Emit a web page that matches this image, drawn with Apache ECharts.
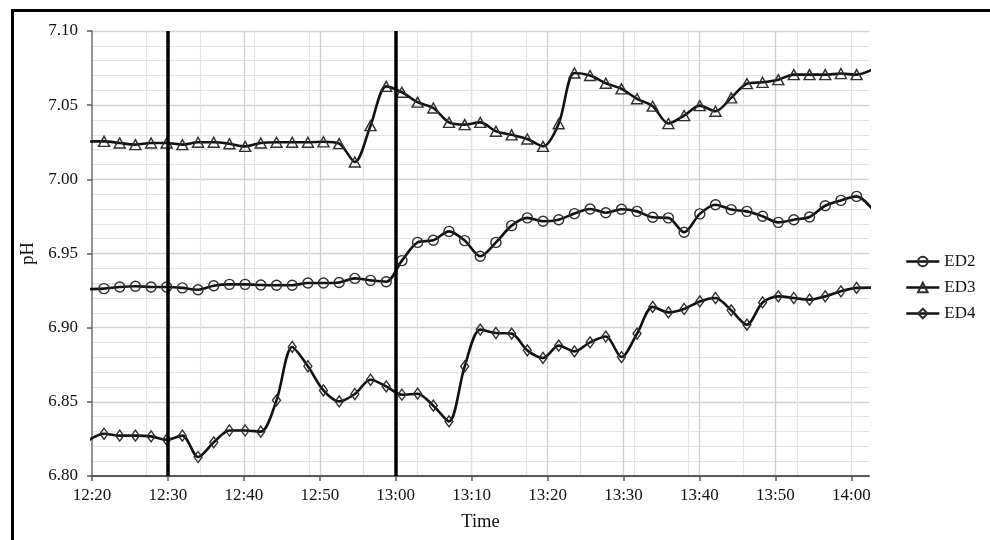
<!DOCTYPE html>
<html><head><meta charset="utf-8">
<script src="https://cdn.jsdelivr.net/npm/echarts@6/dist/echarts.min.js"></script>
<style>html,body{margin:0;padding:0;background:#fff}#c{width:990px;height:540px}</style>
</head><body><div id="c"></div>
<script>
// sample times (first and last points lie just outside the plotted window)
const times = ["12:19:31","12:21:35","12:23:39","12:25:43","12:27:47","12:29:50","12:31:54","12:33:58","12:36:02","12:38:06",
"12:40:10","12:42:14","12:44:18","12:46:22","12:48:26","12:50:29","12:52:33","12:54:37","12:56:41","12:58:45",
"13:00:49","13:02:53","13:04:57","13:07:01","13:09:05","13:11:08","13:13:12","13:15:16","13:17:20","13:19:24",
"13:21:28","13:23:32","13:25:36","13:27:40","13:29:44","13:31:47","13:33:51","13:35:55","13:37:59","13:40:03",
"13:42:07","13:44:11","13:46:15","13:48:19","13:50:23","13:52:26","13:54:30","13:56:34","13:58:38","14:00:42","14:02:46"];
const ed2 = [6.926,6.9263,6.9274,6.9279,6.9274,6.9274,6.9268,6.9256,6.9283,6.9292,
6.9292,6.9288,6.9286,6.9286,6.9301,6.9301,6.9305,6.9332,6.9319,6.931,
6.9452,6.9575,6.9589,6.9649,6.9587,6.9481,6.9575,6.9688,6.974,6.9717,
6.9728,6.9769,6.980,6.9775,6.9798,6.9784,6.9744,6.974,6.9643,6.9767,
6.9829,6.9796,6.9784,6.9751,6.971,6.9728,6.9746,6.9822,6.9858,6.9885,6.980];
const ed3 = [7.0255,7.0256,7.0245,7.0234,7.0245,7.0245,7.0234,7.025,7.025,7.024,
7.0222,7.0245,7.025,7.025,7.025,7.0253,7.0241,7.0117,7.0362,7.0627,
7.0587,7.052,7.0481,7.0384,7.0369,7.0384,7.0324,7.030,7.0272,7.0222,
7.0375,7.0717,7.070,7.0648,7.061,7.0543,7.0493,7.0376,7.043,7.0497,
7.0459,7.0549,7.0645,7.0654,7.0672,7.0706,7.0706,7.0706,7.0713,7.0706,7.074];
const ed4 = [6.824,6.8285,6.8272,6.8272,6.8267,6.8245,6.8272,6.8128,6.8227,6.8307,
6.8307,6.8299,6.851,6.887,6.874,6.8577,6.8503,6.8553,6.8649,6.8604,
6.8548,6.8555,6.8474,6.8368,6.8739,6.8987,6.8964,6.896,6.8847,6.8796,
6.8879,6.884,6.8901,6.894,6.8802,6.896,6.914,6.9103,6.9126,6.9177,
6.92,6.9117,6.902,6.917,6.9211,6.92,6.9189,6.9211,6.9245,6.9268,6.927];
const xTickLabels = ["12:20","12:30","12:40","12:50","13:00","13:10","13:20","13:30","13:40","13:50","14:00"];
const eventTimes = ["12:30","13:00"];
const xStart = "12:20", xEnd = "14:02:20";
const yMin = 6.80, yMax = 7.10, yStep = 0.05;

const base = (function(){const p=xStart.split(':').map(Number);return p[0]*60+p[1];})();
function toMin(s){const p=s.split(':').map(Number);return p[0]*60+p[1]+(p[2]||0)/60-base;}
function fmt(v){const m=Math.round(v)+base;return Math.floor(m/60)+':'+String(m%60).padStart(2,'0');}
const xMax = toMin(xEnd);
const tickVals = xTickLabels.map(toMin);
const FONT = 'Liberation Serif';

const chart = echarts.init(document.getElementById('c'), null, {renderer:'canvas'});
function mk(name, vals, symbol, size){
  return {
    name, type:'line', data: times.map((t,i)=>[toMin(t), vals[i]]),
    smooth: 0.3, symbol, symbolSize: size, showAllSymbol: true, clip: true,
    lineStyle:{color:'#111', width:2.6},
    itemStyle:{color:'rgba(255,255,255,0)', borderColor:'#2e2e2e', borderWidth:1.4},
    emphasis:{disabled:true}, z: 3
  };
}
const s2 = mk('ED2', ed2, 'circle', 10);
const s3 = mk('ED3', ed3, 'triangle', [11,10]);
const s4 = mk('ED4', ed4, 'diamond', [8,11]);
s3.markLine = {
  silent:true, symbol:['none','none'], label:{show:false},
  lineStyle:{color:'#000', width:3.5, type:'solid'},
  data: eventTimes.map(t=>({xAxis: toMin(t)})), z: 5
};
chart.setOption({
  animation:false,
  backgroundColor:'#fff',
  graphic:[{type:'rect', left:10, top:8, shape:{width:1100, height:700}, style:{fill:'none', stroke:'#000', lineWidth:3}, silent:true}],
  grid:{left:92, top:31, width:777, height:445, containLabel:false},
  legend:{
    orient:'vertical', left:905, top:253, itemWidth:33, itemHeight:12, itemGap:9, padding:0,
    textStyle:{fontFamily:FONT, fontSize:17, color:'#111'},
    lineStyle:{width:2.6, color:'#111'},
    data:['ED2','ED3','ED4']
  },
  xAxis:[{
    type:'value', min:0, max:xMax, interval:10,
    name:'Time', nameLocation:'middle', nameGap:37,
    nameTextStyle:{fontFamily:FONT, fontSize:18.5, color:'#111'},
    axisLine:{show:true, lineStyle:{color:'#5a5a5a', width:2}},
    axisTick:{show:true, length:5, customValues:tickVals, lineStyle:{color:'#5a5a5a', width:1.5}},
    axisLabel:{customValues:tickVals, formatter:fmt, margin:11, fontFamily:FONT, fontSize:17, color:'#111'},
    splitLine:{show:true, showMinLine:false, showMaxLine:false, lineStyle:{color:'#cdcdcd', width:1.3}}
  },{
    type:'value', min:0, max:xMax*14/100, interval:1, position:'top',
    axisLine:{show:false}, axisTick:{show:false}, axisLabel:{show:false},
    splitLine:{show:true, showMinLine:false, showMaxLine:false, lineStyle:{color:'#e2e2e2', width:1.2}}
  }],
  yAxis:{
    type:'value', min:yMin, max:yMax, interval:yStep,
    name:'pH', nameLocation:'middle', nameGap:43, nameRotate:90,
    nameTextStyle:{fontFamily:FONT, fontSize:18.5, color:'#111'},
    axisLine:{show:true, lineStyle:{color:'#6e6e6e', width:1.5}},
    axisTick:{show:true, length:5, lineStyle:{color:'#5a5a5a', width:1.5}},
    axisLabel:{formatter:v=>v.toFixed(2), margin:14, fontFamily:FONT, fontSize:17, color:'#111'},
    splitLine:{show:true, lineStyle:{color:'#d2d2d2', width:1.3}},
    minorTick:{show:false, splitNumber:5},
    minorSplitLine:{show:true, lineStyle:{color:'#e4e4e4', width:1.2}}
  },
  series:[s2, s3, s4]
});
</script></body></html>
